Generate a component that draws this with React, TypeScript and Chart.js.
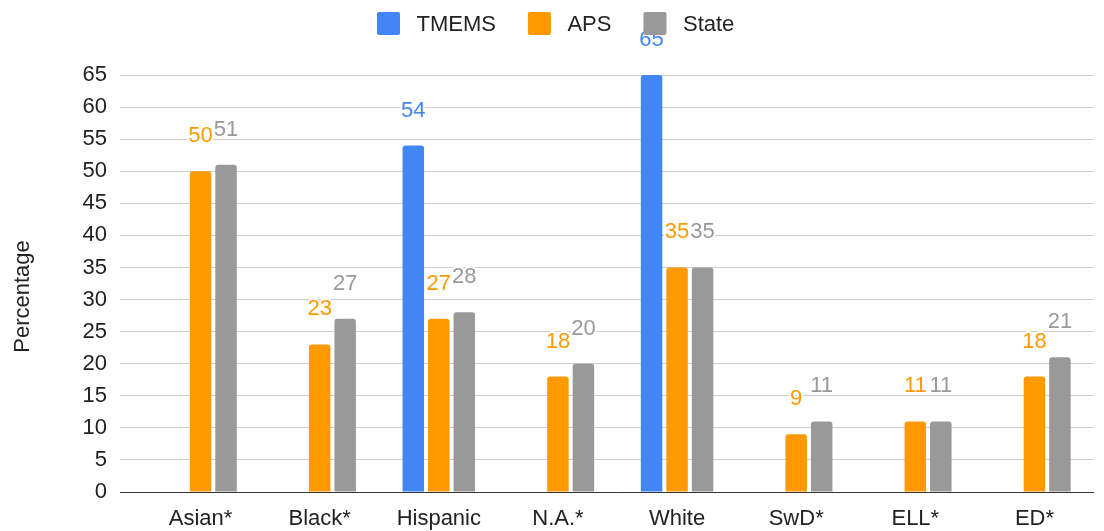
import React, { useEffect, useRef } from "react";
import { Chart, registerables } from "chart.js";

Chart.register(...registerables);

const categories = ["Asian*", "Black*", "Hispanic", "N.A.*", "White", "SwD*", "ELL*", "ED*"];
const tmemsValues = [null, null, 54, null, 65, null, null, null];
const apsValues = [50, 23, 27, 18, 35, 9, 11, 18];
const stateValues = [51, 27, 28, 20, 35, 11, 11, 21];
const seriesNames = ["TMEMS", "APS", "State"];
const seriesColors = ["#4285F4", "#FF9900", "#999999"];
const yTitle = "Percentage";

const FONT = '"Liberation Sans", Arial, sans-serif';

const dataLabelPlugin = {
  id: "dataLabels",
  afterDatasetsDraw(chart: any) {
    const ctx = chart.ctx;
    ctx.save();
    ctx.font = `22px ${FONT}`;
    ctx.textAlign = "center";
    ctx.textBaseline = "alphabetic";
    ctx.lineJoin = "round";
    chart.data.datasets.forEach((ds: any, di: number) => {
      const meta = chart.getDatasetMeta(di);
      meta.data.forEach((el: any, i: number) => {
        const v = ds.data[i];
        if (v === null || v === undefined) return;
        const y = el.y - 29;
        ctx.lineWidth = 4;
        ctx.strokeStyle = "#ffffff";
        ctx.strokeText(String(v), el.x, y);
        ctx.fillStyle = ds.backgroundColor;
        ctx.fillText(String(v), el.x, y);
      });
    });
    ctx.restore();
  },
};

const legendAndTitlePlugin = {
  id: "customLegend",
  afterDraw(chart: any) {
    const ctx = chart.ctx;
    ctx.save();
    ctx.font = `22px ${FONT}`;
    ctx.textBaseline = "middle";
    ctx.textAlign = "left";
    let x = 377;
    const yTop = 12;
    const box = 23;
    chart.data.datasets.forEach((ds: any) => {
      ctx.fillStyle = ds.backgroundColor;
      ctx.beginPath();
      (ctx as any).roundRect(x, yTop, box, box, 2);
      ctx.fill();
      const tx = x + box + 16.5;
      ctx.fillStyle = "#222222";
      ctx.fillText(ds.label, tx, yTop + box / 2 + 1);
      x = tx + ctx.measureText(ds.label).width + 32;
    });
    // y axis title
    ctx.translate(22.5, 296.5);
    ctx.rotate(-Math.PI / 2);
    ctx.textAlign = "center";
    ctx.fillStyle = "#222222";
    ctx.fillText(yTitle, 0, 0);
    ctx.restore();
  },
};

export default function App() {
  const canvasRef = useRef<HTMLCanvasElement | null>(null);

  useEffect(() => {
    if (!canvasRef.current) return;
    const chart = new Chart(canvasRef.current, {
      type: "bar",
      data: {
        labels: categories,
        datasets: [
          { label: seriesNames[0], data: tmemsValues, backgroundColor: seriesColors[0] },
          { label: seriesNames[1], data: apsValues, backgroundColor: seriesColors[1] },
          { label: seriesNames[2], data: stateValues, backgroundColor: seriesColors[2] },
        ] as any,
      },
      options: {
        animation: false,
        responsive: true,
        maintainAspectRatio: false,
        layout: { padding: { top: 75, right: 10, bottom: 0, left: 0 } },
        datasets: {
          bar: {
            categoryPercentage: 0.642,
            barPercentage: 0.843,
            borderRadius: { topLeft: 3, topRight: 3, bottomLeft: 0, bottomRight: 0 },
            borderSkipped: "start",
          },
        } as any,
        plugins: {
          legend: { display: false },
          tooltip: { enabled: false },
        },
        scales: {
          x: {
            grid: { display: false, drawTicks: false },
            border: { display: false },
            ticks: {
              padding: 14,
              color: "#222222",
              font: { family: FONT, size: 22 },
              maxRotation: 0,
              autoSkip: false,
            },
            afterFit(scale: any) {
              scale.height = 39;
            },
          },
          y: {
            min: 0,
            max: 65,
            ticks: {
              stepSize: 5,
              padding: 13,
              color: "#222222",
              font: { family: FONT, size: 22 },
            },
            grid: {
              color: (c: any) => (c.tick && c.tick.value === 0 ? "#333333" : "#cccccc"),
              tickColor: (c: any) => (c.tick && c.tick.value === 0 ? "#333333" : "#cccccc"),
              lineWidth: 1,
              drawTicks: true,
              tickLength: 21,
            },
            border: { display: false },
            afterFit(scale: any) {
              scale.width = 141;
            },
          },
        },
      },
      plugins: [dataLabelPlugin, legendAndTitlePlugin],
    });
    return () => chart.destroy();
  }, []);

  return (
    <div style={{ position: "fixed", left: 0, top: 0, width: 1104, height: 531, background: "#ffffff" }}>
      <canvas ref={canvasRef} />
    </div>
  );
}
